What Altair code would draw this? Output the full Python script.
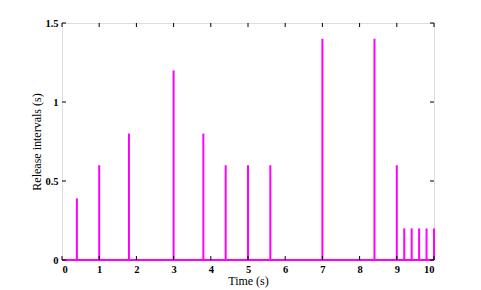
import altair as alt
import pandas as pd

times = [0.4, 1.0, 1.8, 3.0, 3.8, 4.4, 5.0, 5.6, 7.0, 8.4, 9.0, 9.2, 9.4, 9.6, 9.8, 10.0]
intervals = [0.39, 0.6, 0.8, 1.2, 0.8, 0.6, 0.6, 0.6, 1.4, 1.4, 0.6, 0.2, 0.2, 0.2, 0.2, 0.2]
x_ticks = list(range(0, 11))
y_ticks = [0, 0.5, 1, 1.5]

W, H = 372, 237
FONT = "Liberation Serif"
MAG = "#ff00ff"

spikes = pd.DataFrame({"t": times, "v": intervals})
xt = pd.DataFrame({"t": x_ticks})
yt = pd.DataFrame({"v": y_ticks})

xs = alt.Scale(domain=[0, 10], nice=False, zero=False)
ys = alt.Scale(domain=[0, 1.5], nice=False)

xaxis = alt.Axis(values=x_ticks, ticks=False, domain=False, grid=False, labelOverlap=False,
                 labelFont=FONT, labelFontSize=10.5, labelFontWeight="bold", labelColor="black",
                 labelPadding=4,
                 title="Time (s)", titleFont=FONT, titleFontSize=12, titleFontWeight="normal",
                 titleColor="black", titleBaseline="middle", titleY=20, format="d")
yaxis = alt.Axis(values=y_ticks, ticks=False, domain=False, grid=False, labelOverlap=False,
                 labelFont=FONT, labelFontSize=10.5, labelFontWeight="bold", labelColor="black",
                 labelPadding=4,
                 title="Release intervals (s)", titleFont=FONT, titleFontSize=12,
                 titleFontWeight="normal", titleColor="black", titleBaseline="middle",
                 titleX=-26, format="~g")

base_rule = alt.Chart(spikes).mark_rule(color=MAG, strokeWidth=2).encode(
    x=alt.datum(0, scale=xs, axis=xaxis, type="quantitative"),
    x2=alt.datum(10),
    y=alt.datum(0, scale=ys, axis=yaxis, type="quantitative"),
)

spike_layer = alt.Chart(spikes).mark_rule(color=MAG, strokeWidth=2).encode(
    x=alt.X("t:Q", scale=xs, axis=xaxis),
    y=alt.Y("v:Q", scale=ys, axis=yaxis),
    y2=alt.datum(0),
)

tick_len = 4
xb = alt.Chart(xt).mark_rule(color="black", strokeWidth=1).encode(
    x=alt.X("t:Q", scale=xs, axis=xaxis), y=alt.value(H), y2=alt.value(H - tick_len))
xtop = alt.Chart(xt).mark_rule(color="black", strokeWidth=1).encode(
    x=alt.X("t:Q", scale=xs, axis=xaxis), y=alt.value(0), y2=alt.value(tick_len))
yl = alt.Chart(yt).mark_rule(color="black", strokeWidth=1).encode(
    y=alt.Y("v:Q", scale=ys, axis=yaxis), x=alt.value(0), x2=alt.value(tick_len))
yr = alt.Chart(yt).mark_rule(color="black", strokeWidth=1).encode(
    y=alt.Y("v:Q", scale=ys, axis=yaxis), x=alt.value(W), x2=alt.value(W - tick_len))

chart = alt.layer(base_rule, spike_layer, xb, xtop, yl, yr).properties(
    width=W, height=H,
    autosize=alt.AutoSizeParams(type="none"),
    padding={"left": 54, "top": 15, "right": 10, "bottom": 30},
).configure_view(stroke="black", strokeWidth=1).configure(background="white")

chart.save("out.html", embed_options={"renderer": "svg", "actions": False})
